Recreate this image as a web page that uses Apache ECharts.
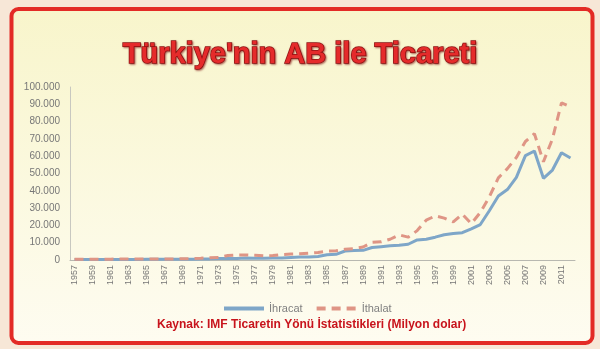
<!DOCTYPE html>
<html><head><meta charset="utf-8">
<script src="https://cdn.jsdelivr.net/npm/echarts@6/dist/echarts.min.js"></script>
<style>html,body{margin:0;padding:0;background:#f7e7d7;}#c{width:600px;height:349px;}</style>
</head><body><div id="c"></div>
<script>
const years = [];
for (let y = 1957; y <= 2012; y++) years.push(String(y));
const ihracat = [300,300,300,300,300,320,330,350,380,400,420,420,450,500,550,650,900,900,900,1100,1000,1000,1100,1200,1500,1700,1700,2000,3000,3300,5200,5500,5600,7200,7700,8200,8500,9100,11600,12000,13200,14600,15300,15800,18000,20500,28500,37000,40700,47800,60300,63000,47200,52000,62000,59000];
const ithalat = [500,450,450,500,500,550,600,550,550,600,600,650,700,800,1000,1300,1500,2600,2900,2900,2700,2400,2600,3200,3400,3600,3900,4300,5100,5300,6200,6600,7500,10200,10500,12000,14500,13200,17000,23000,25500,24200,22000,26500,21000,27500,36500,47500,52800,59300,68500,73000,56800,70000,90800,88500];
const seriesNames = ['İhracat','İthalat'];
const titleText = "Türkiye'nin AB ile Ticareti";
const sourceText = 'Kaynak: IMF Ticaretin Yönü İstatistikleri (Milyon dolar)';

const chart = echarts.init(document.getElementById('c'));
chart.setOption({
  animation: false,
  backgroundColor: '#f7e7d7',
  graphic: [{
    type: 'rect', z: -10, silent: true,
    shape: { x: 11.5, y: 9, width: 581, height: 334, r: 7 },
    style: {
      fill: new echarts.graphic.LinearGradient(0, 0, 0, 1, [
        { offset: 0, color: '#f8f5cb' }, { offset: 1, color: '#fefcf1' }
      ]),
      stroke: '#e32b26', lineWidth: 4
    }
  }, {
    type: 'text', left: 157, top: 319, z: 10,
    style: { text: sourceText, fill: '#c8141c', font: 'bold 12px "Liberation Sans", Arial, sans-serif' }
  }],
  title: {
    text: titleText, left: 'center', top: 35,
    textStyle: {
      fontFamily: '"Liberation Sans", Arial, sans-serif', fontWeight: 'bold', fontSize: 29,
      color: '#e52b2b', textBorderColor: '#8e1414', textBorderWidth: 1.5,
      textShadowColor: 'rgba(120,0,0,0.5)', textShadowBlur: 2, textShadowOffsetX: 1, textShadowOffsetY: 1
    }
  },
  legend: {
    top: 298, left: 217, itemWidth: 40, itemHeight: 10, itemGap: 12,
    itemStyle: { opacity: 0, borderWidth: 0 },
    lineStyle: { width: 4 },
    textStyle: { color: '#808080', fontSize: 11, fontFamily: '"Liberation Sans", Arial, sans-serif' },
    data: seriesNames
  },
  grid: { left: 70, right: 25, top: 87, bottom: 89 },
  xAxis: {
    type: 'category', data: years, boundaryGap: true,
    axisLine: { lineStyle: { color: '#b8b8b0', width: 1 } },
    axisTick: { show: false },
    axisLabel: { rotate: 90, interval: 1, color: '#777', fontSize: 9, margin: 5,
      fontFamily: '"Liberation Sans", Arial, sans-serif' }
  },
  yAxis: {
    type: 'value', min: 0, max: 100000, interval: 10000,
    axisLine: { show: true, lineStyle: { color: '#c8c8c0' } },
    axisTick: { show: false },
    splitLine: { show: false },
    axisLabel: { color: '#777', fontSize: 10, margin: 10,
      fontFamily: '"Liberation Sans", Arial, sans-serif',
      formatter: v => v === 0 ? '0' : (v / 1000).toFixed(0) + '.000' }
  },
  series: [{
    name: seriesNames[0], type: 'line', data: ihracat, symbol: 'none',
    lineStyle: { color: '#7ea6c8', width: 3 }, itemStyle: { color: '#7ea6c8' }
  }, {
    name: seriesNames[1], type: 'line', data: ithalat, symbol: 'none',
    lineStyle: { color: '#df9585', width: 3, type: [9, 6] }, itemStyle: { color: '#df9585' }
  }]
});
</script></body></html>
